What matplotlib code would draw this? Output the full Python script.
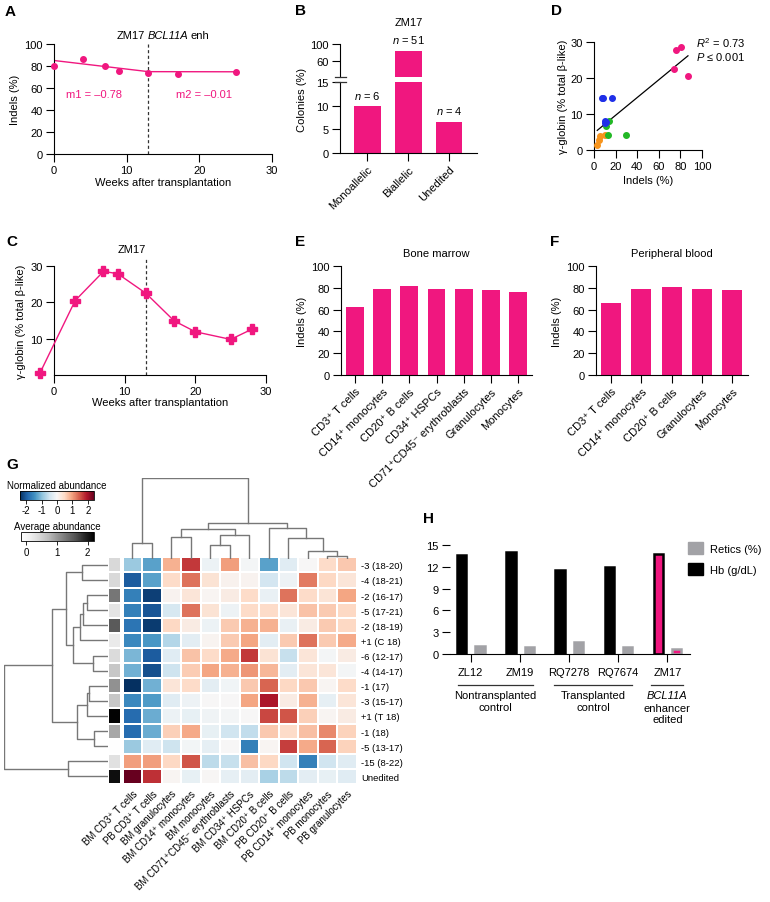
import numpy as np
import matplotlib
matplotlib.use("Agg")
import matplotlib.pyplot as plt
from matplotlib.colors import Normalize
from matplotlib.cm import ScalarMappable
from matplotlib.patches import Patch
from matplotlib.lines import Line2D
from matplotlib.offsetbox import TextArea, HPacker, AnchoredOffsetbox

plt.rcParams['font.family'] = ['Liberation Sans', 'DejaVu Sans']
plt.rcParams['font.size'] = 8
plt.rcParams['axes.linewidth'] = 0.8
plt.rcParams['axes.unicode_minus'] = False
plt.rcParams['mathtext.fontset'] = 'custom'
plt.rcParams['mathtext.rm'] = 'Liberation Sans'
plt.rcParams['mathtext.it'] = 'Liberation Sans:italic'

PINK = '#F0177F'
GRAY = '#A2A2A6'

# ---- A: indels over time ----
weeks_a = [0, 4, 7, 9, 13, 17, 25]
indels_a = [79.7, 86.4, 80.3, 75.8, 73.6, 72.4, 74.2]
fit_b0, fit_break, fit_end = 85.0, 13, 25
m1, m2 = -0.78, -0.01

# ---- B: colonies ----
colony_cats = ["Monoallelic", "Biallelic", "Unedited"]
colony_n = [6, 51, 4]

# ---- C: gamma globin ----
weeks_c = [-2, 3, 7, 9, 13, 17, 20, 25, 28]
gamma_c = [0.5, 20.5, 28.5, 27.9, 22.5, 14.9, 11.9, 9.8, 12.6]

# ---- D: indels vs gamma globin ----
d_pink_x = [76, 81, 74, 87]
d_pink_y = [27.9, 28.5, 22.6, 20.6]
d_blue_x = [7, 8.5, 17, 10, 10.5, 11]
d_blue_y = [14.4, 14.4, 14.4, 8.1, 7.5, 7.8]
d_green_x = [14, 11.5, 12.5, 30]
d_green_y = [8.0, 6.6, 4.3, 4.2]
d_orange_x = [5.5, 5, 3, 10.5]
d_orange_y = [4.0, 2.7, 1.5, 4.2]

# ---- E / F: lineages ----
bm_cells = ["CD3⁺ T cells", "CD14⁺ monocytes", "CD20⁺ B cells", "CD34⁺ HSPCs",
            "CD71⁺CD45⁻ erythroblasts", "Granulocytes", "Monocytes"]
bm_indels = [62.8, 78.5, 81.5, 78.8, 78.8, 77.8, 75.7]
pb_cells = ["CD3⁺ T cells", "CD14⁺ monocytes", "CD20⁺ B cells", "Granulocytes", "Monocytes"]
pb_indels = [66.5, 78.5, 80.6, 79.1, 78.2]

# ---- G: heatmap ----
hm_rows = ["-3 (18-20)", "-4 (18-21)", "-2 (16-17)", "-5 (17-21)", "-2 (18-19)",
           "+1 (C 18)", "-6 (12-17)", "-4 (14-17)", "-1 (17)", "-3 (15-17)",
           "+1 (T 18)", "-1 (18)", "-5 (13-17)", "-15 (8-22)", "Unedited"]
hm_cols = ["BM CD3⁺ T cells", "PB CD3⁺ T cells", "BM granulocytes", "BM CD14⁺ monocytes",
           "BM monocytes", "BM CD71⁺CD45⁻ erythroblasts", "BM CD34⁺ HSPCs",
           "BM CD20⁺ B cells", "PB CD20⁺ B cells", "PB CD14⁺ monocytes",
           "PB monocytes", "PB granulocytes"]
norm_abund = [
    [-0.9, -1.3, 0.85, 1.7, -0.15, 1.0, -0.05, -1.3, -0.3, 0.0, 0.45, 0.65],
    [-2.0, -1.3, 0.45, 1.3, 0.35, 0.1, 0.08, -0.45, -0.12, 1.25, 0.5, 0.3],
    [-1.65, -2.25, 0.08, 0.3, 0.05, 0.2, 0.45, -0.18, 1.3, 0.45, 0.32, 0.95],
    [-1.65, -2.05, -0.4, 1.3, 0.35, -0.12, 0.45, 0.45, 0.3, 0.7, 0.62, 0.5],
    [-1.75, -2.3, 0.5, 0.2, -0.15, 0.62, 0.85, 0.85, -0.18, 0.2, 0.62, 0.5],
    [-1.55, -1.4, -0.7, -0.25, 0.07, 0.63, 0.95, -0.25, 0.62, 1.3, 0.62, 0.9],
    [-1.1, -2.0, -0.3, 0.7, 0.45, 0.9, 1.7, 0.35, -0.55, 0.3, -0.05, 0.2],
    [-1.15, -2.1, -0.5, 0.6, 0.95, 0.85, 1.05, 0.8, -0.25, 0.3, 0.3, -0.05],
    [-2.4, -1.15, 0.3, 0.45, -0.25, -0.08, 0.65, 1.4, 0.5, 0.65, 0.05, 0.45],
    [-1.55, -1.35, -0.3, -0.12, 0.0, 0.0, 0.95, 1.95, 0.2, 0.85, -0.22, 0.3],
    [-1.85, -1.2, -0.15, -0.2, -0.1, -0.05, 0.0, 1.6, 1.5, 0.57, 0.05, 0.2],
    [-1.85, -1.2, 0.58, 0.9, -0.2, -0.48, -0.6, 0.65, 0.45, 0.72, 1.15, 0.55],
    [-0.9, -0.3, -0.5, -0.07, -0.22, 0.0, -1.65, 0.05, 1.65, 0.9, 1.4, 0.55],
    [1.0, 1.0, 0.5, 1.5, -0.62, -0.55, 0.72, 0.5, -0.48, -1.65, -0.48, -0.3],
    [2.4, 1.75, 0.05, -0.2, 0.03, -0.22, -0.25, -0.78, -0.62, -0.25, -0.2, -0.3],
]
avg_abund = [0.43, 0.43, 1.3, 0.28, 1.55, 0.21, 0.4, 0.62, 1.07, 0.62, 2.2, 0.9, -0.15, 0.33, 2.1]
# linkage: (child a, child b, height); new clusters numbered after the leaves
row_links = [(0, 1, 26), (2, 3, 21), (16, 4, 25), (17, 5, 28), (6, 7, 15.6),
             (18, 19, 35), (15, 20, 42.6), (8, 9, 19), (22, 10, 21.6), (11, 12, 14),
             (23, 24, 31), (21, 25, 56.6), (13, 14, 40), (26, 27, 104)]
col_links = [(0, 1, 16), (2, 3, 21.7), (4, 5, 14.3), (14, 6, 24), (13, 15, 30),
             (10, 11, 3.3), (9, 17, 7.7), (8, 18, 20.7), (7, 19, 31), (16, 20, 36),
             (12, 21, 80.7)]

# ---- H: blood counts ----
animals = ["ZL12", "ZM19", "RQ7278", "RQ7674", "ZM17"]
hb = [13.6, 14.0, 11.5, 12.0, 13.7]
retics = [1.15, 0.92, 1.6, 0.96, 0.69]

W, H = 770, 903
fig = plt.figure(figsize=(W / 100, H / 100), dpi=100)


def px_axes(l, t, r, b):
    return fig.add_axes([l / W, 1 - b / H, (r - l) / W, (b - t) / H])


def ftext(x, y, s, **kw):
    return fig.text(x / W, 1 - y / H, s, **kw)


def style(ax):
    ax.spines['top'].set_visible(False)
    ax.spines['right'].set_visible(False)
    ax.tick_params(direction='out', length=6, width=0.8, labelsize=8, pad=2)


for lab, x, y in [("A", 10, 12), ("B", 300, 11), ("C", 12, 242), ("D", 557, 11),
                  ("E", 300, 242), ("F", 555, 242), ("G", 12, 465), ("H", 429, 519)]:
    ftext(x, y, lab, fontsize=11, fontweight='bold', ha='center', va='center')

# A
ax = px_axes(54, 45, 272, 155)
style(ax)
ax.plot(weeks_a, indels_a, 'o', color=PINK, ms=4, clip_on=False, zorder=3)
fx = [0, fit_break, fit_end]
fy = [fit_b0, fit_b0 + m1 * fit_break, fit_b0 + m1 * fit_break + m2 * (fit_end - fit_break)]
ax.plot(fx, fy, color=PINK, lw=1)
ax.axvline(13, color='#333333', ls=(0, (2.5, 2)), lw=0.9)
ax.set_xlim(0, 30)
ax.set_ylim(0, 100)
ax.set_xticks([0, 10, 20, 30])
ax.set_yticks([0, 20, 40, 60, 80, 100])
ax.text(5.5, 54.5, "m1 = –0.78", color=PINK, ha='center', va='center', fontsize=8)
ax.text(20.6, 54.5, "m2 = –0.01", color=PINK, ha='center', va='center', fontsize=8)
ax.set_xlabel("Weeks after transplantation", fontsize=8, labelpad=1)
ax.set_ylabel("Indels (%)", fontsize=8, labelpad=3)
title_parts = HPacker(children=[TextArea("ZM17", textprops=dict(fontsize=8)),
                                TextArea("BCL11A", textprops=dict(fontsize=8, style='italic')),
                                TextArea("enh", textprops=dict(fontsize=8))],
                      align='baseline', pad=0, sep=1.6)
ax.add_artist(AnchoredOffsetbox(loc='lower center', child=title_parts, frameon=False,
                                bbox_to_anchor=(0.5, 1.04), bbox_transform=ax.transAxes,
                                borderpad=0, pad=0))

# B
pct = [100 * n / sum(colony_n) for n in colony_n]
xb = np.arange(len(colony_cats))
ax_up = px_axes(340, 45, 477, 78)
ax_lo = px_axes(340, 83, 477, 154)
for a in (ax_up, ax_lo):
    style(a)
    a.bar(xb, pct, width=0.65, color=PINK)
    a.set_xlim(-0.67, 2.68)
ax_up.set_ylim(22.4, 100)
ax_up.set_yticks([60, 100])
ax_up.spines['bottom'].set_visible(False)
ax_up.set_xticks([])
ax_lo.set_ylim(0, 15)
ax_lo.set_yticks([0, 5, 10, 15])
ax_lo.set_xticks(xb)
ax_lo.set_xticklabels(colony_cats, rotation=45, ha='right', rotation_mode='anchor', fontsize=8)
for yy in (78, 83):
    fig.add_artist(Line2D([335 / W, 346 / W], [1 - yy / H] * 2, color='#333333', lw=0.9))
for i, (n, p) in enumerate(zip(colony_n, pct)):
    a = ax_up if p > 15 else ax_lo
    a.annotate(r"$n$ = %d" % n, (i, p), xytext=(0, 4), textcoords='offset points',
               ha='center', va='bottom', fontsize=8)
ax_up.set_title("ZM17", fontsize=8, pad=14)
ftext(302, 100, "Colonies (%)", rotation=90, ha='center', va='center', fontsize=8)

# D
ax = px_axes(594, 43, 702, 151)
style(ax)
for xs, ys, c in [(d_orange_x, d_orange_y, '#F7941D'), (d_green_x, d_green_y, '#22B825'),
                  (d_blue_x, d_blue_y, '#1F2FE8'), (d_pink_x, d_pink_y, PINK)]:
    ax.plot(xs, ys, 'o', color=c, ms=4, clip_on=False, zorder=3)
allx = np.array(d_pink_x + d_blue_x + d_green_x + d_orange_x, dtype=float)
ally = np.array(d_pink_y + d_blue_y + d_green_y + d_orange_y, dtype=float)
k, b0 = np.polyfit(allx, ally, 1)
lx = np.array([allx.min(), allx.max()])
ax.plot(lx, k * lx + b0, color='black', lw=0.9)
ax.set_xlim(0, 100)
ax.set_ylim(0, 30)
ax.set_xticks([0, 20, 40, 60, 80, 100])
ax.set_yticks([0, 10, 20, 30])
ax.set_xlabel("Indels (%)", fontsize=8, labelpad=3)
ax.set_ylabel("γ-globin (% total β-like)", fontsize=8, labelpad=2)
ax.text(140, 30, r"$R^2$ = 0.73", ha='right', va='center', fontsize=8, clip_on=False)
ax.text(140, 26.1, r"$P$ ≤ 0.001", ha='right', va='center', fontsize=8, clip_on=False)

# C
ax = px_axes(54, 267, 266, 376)
style(ax)
ax.plot(weeks_c, gamma_c, '-P', color=PINK, ms=7, lw=1, clip_on=False, zorder=3)
ax.plot([13, 13], [0, 32.6], color='#333333', ls=(0, (2.5, 2)), lw=0.9, clip_on=False)
ax.set_xlim(0, 30)
ax.set_ylim(0, 30)
ax.set_xticks([0, 10, 20, 30])
ax.set_yticks([10, 20, 30])
ax.set_xlabel("Weeks after transplantation", fontsize=8, labelpad=1)
ax.set_ylabel("γ-globin (% total β-like)", fontsize=8, labelpad=3)
ax.text(11, 33.3, "ZM17", ha='center', va='bottom', fontsize=8)

# E
ax = px_axes(341, 267, 532, 376)
style(ax)
ax.bar(np.arange(len(bm_cells)), bm_indels, width=0.66, color=PINK)
ax.set_xlim(-0.52, 6.52)
ax.set_ylim(0, 100)
ax.set_yticks([0, 20, 40, 60, 80, 100])
ax.set_xticks(np.arange(len(bm_cells)))
ax.set_xticklabels(bm_cells, rotation=45, ha='right', rotation_mode='anchor', fontsize=8)
ax.set_ylabel("Indels (%)", fontsize=8, labelpad=3)
ax.set_title("Bone marrow", fontsize=8, pad=7)

# F
ax = px_axes(596, 267, 748, 376)
style(ax)
ax.bar(np.arange(len(pb_cells)), pb_indels, width=0.66, color=PINK)
ax.set_xlim(-0.5, 4.52)
ax.set_ylim(0, 100)
ax.set_yticks([0, 20, 40, 60, 80, 100])
ax.set_xticks(np.arange(len(pb_cells)))
ax.set_xticklabels(pb_cells, rotation=45, ha='right', rotation_mode='anchor', fontsize=8)
ax.set_ylabel("Indels (%)", fontsize=8, labelpad=3)
ax.set_title("Peripheral blood", fontsize=8, pad=7)

# G heatmap
ax_hm = px_axes(122.7, 558.3, 356.7, 785)
ax_hm.pcolormesh(np.array(norm_abund), cmap='RdBu_r', vmin=-2.4, vmax=2.4,
                 edgecolors='white', linewidth=1.2)
ax_hm.set_xlim(0, 12)
ax_hm.set_ylim(15, 0)
for s in ax_hm.spines.values():
    s.set_visible(False)
ax_hm.yaxis.tick_right()
ax_hm.set_yticks(np.arange(15) + 0.5)
ax_hm.set_yticklabels(hm_rows, fontsize=6.8)
ax_hm.set_xticks(np.arange(12) + 0.5)
ax_hm.set_xticklabels(hm_cols, rotation=45, ha='right', rotation_mode='anchor', fontsize=7)
ax_hm.tick_params(length=0, pad=3)

ax_av = px_axes(108.3, 558.3, 121, 785)
ax_av.pcolormesh(np.array(avg_abund).reshape(-1, 1), cmap='Greys', vmin=-0.17, vmax=2.22,
                 edgecolors='white', linewidth=1.2)
ax_av.set_ylim(15, 0)
ax_av.axis('off')


def dendro(ax, links, n, vertical):
    pos = {i: i + 0.5 for i in range(n)}
    hgt = {i: 0.0 for i in range(n)}
    for k, (a, b, h) in enumerate(links):
        xs = [hgt[a], h, h, hgt[b]]
        ys = [pos[a], pos[a], pos[b], pos[b]]
        if vertical:
            ax.plot(ys, xs, color='#777777', lw=1)
        else:
            ax.plot(xs, ys, color='#777777', lw=1)
        pos[n + k] = (pos[a] + pos[b]) / 2
        hgt[n + k] = h
    ax.axis('off')


ax_rd = px_axes(4, 558.3, 108.3, 785)
dendro(ax_rd, row_links, 15, False)
ax_rd.set_xlim(104.3, 0)
ax_rd.set_ylim(15, 0)

ax_cd = px_axes(122.7, 479, 356.7, 560)
dendro(ax_cd, col_links, 12, True)
ax_cd.set_xlim(0, 12)
ax_cd.set_ylim(0, 81)

cax1 = px_axes(20, 491.7, 94, 500.7)
cb1 = fig.colorbar(ScalarMappable(Normalize(-2.4, 2.4), 'RdBu_r'), cax=cax1,
                   orientation='horizontal', ticks=[-2, -1, 0, 1, 2])
cb1.outline.set_linewidth(0.6)
cax1.tick_params(labelsize=7, length=3, width=0.6, pad=1)
cax1.set_title("Normalized abundance", fontsize=7, pad=2)
cax2 = px_axes(20.7, 533, 94.3, 542)
cb2 = fig.colorbar(ScalarMappable(Normalize(-0.17, 2.22), 'Greys'), cax=cax2,
                   orientation='horizontal', ticks=[0, 1, 2])
cb2.outline.set_linewidth(0.6)
cax2.tick_params(labelsize=7, length=3, width=0.6, pad=1)
cax2.set_title("Average abundance", fontsize=7, pad=2)

# H
ax = px_axes(450, 546, 690, 655)
style(ax)
ax.spines['left'].set_visible(False)
xh = np.arange(len(animals))
hb_fill = ['black'] * 4 + [PINK]
rt_fill = [GRAY] * 4 + [PINK]
ax.bar(xh - 0.18, hb, width=0.19, color=hb_fill, edgecolor='black', lw=1.8, joinstyle='miter')
ax.bar(xh + 0.19, retics, width=0.19, color=rt_fill, edgecolor=GRAY, lw=1.8, joinstyle='miter')
ax.set_xlim(-0.42, 4.46)
ax.set_ylim(0, 15)
ax.set_yticks([0, 3, 6, 9, 12, 15])
ax.set_xticks(xh)
ax.set_xticklabels(animals, fontsize=8)
ax.tick_params(axis='x', pad=3)
tr = ax.get_xaxis_transform()
for x0, x1, xc, txt in [(-0.26, 1.27, 0.5, "Nontransplanted\ncontrol"),
                        (1.69, 3.28, 2.49, "Transplanted\ncontrol"),
                        (3.66, 4.31, 4.0, None)]:
    ax.plot([x0, x1], [-0.284, -0.284], color='#333333', lw=0.9, transform=tr, clip_on=False)
    if txt:
        ax.text(xc, -0.33, txt, transform=tr, ha='center', va='top', fontsize=8, linespacing=1.2)
ax.text(4.0, -0.33, "BCL11A", transform=tr, ha='center', va='top', fontsize=8, style='italic')
ax.text(4.0, -0.445, "enhancer\nedited", transform=tr, ha='center', va='top', fontsize=8,
        linespacing=1.2)
ax.legend(handles=[Patch(color=GRAY), Patch(color='black')], labels=["Retics (%)", "Hb (g/dL)"],
          frameon=False, fontsize=8, handlelength=1.35, handleheight=1.35, handletextpad=0.6,
          labelspacing=0.75, loc='upper left', bbox_to_anchor=(688 / W, 1 - 543 / H),
          bbox_transform=fig.transFigure, borderaxespad=0, borderpad=0)

fig.savefig("out.png", dpi=100)
